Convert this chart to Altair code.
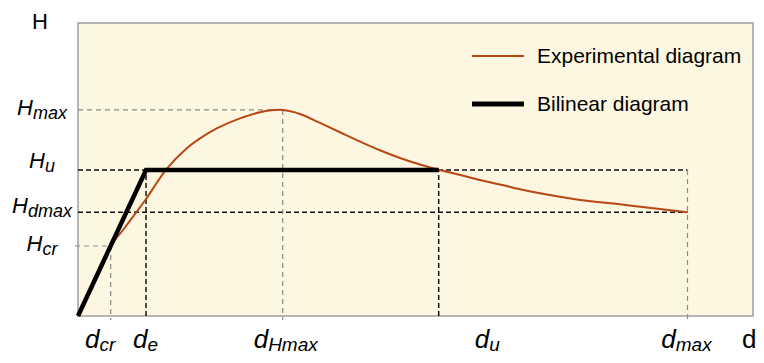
import altair as alt
import pandas as pd

# ---------------- data (grid units) ----------------
curve_d = [0, 3.10, 4.27, 5.55, 6.45, 8.41, 10.31, 11.57, 13.15, 15.36, 17.26,
           19.41, 21.05, 22.95, 24.84, 26.74, 28.63, 30.53, 32.43, 34.04, 36.22,
           38.11, 40.01, 41.91, 43.80, 47.60, 51.39, 55.18, 57.79]
curve_H = [0, 6.69, 8.22, 9.94, 11.18, 14.05, 16.03, 16.98, 17.94, 18.89, 19.47,
           19.69, 19.31, 18.45, 17.56, 16.67, 15.84, 15.10, 14.47, 14.02, 13.48,
           13.00, 12.57, 12.11, 11.73, 11.09, 10.67, 10.23, 9.91]

d_names = ["cr", "e", "Hmax", "u", "max"]
d_values = [3.10, 6.45, 19.41, 34.20, 57.79]
H_names = ["max", "u", "dmax", "cr"]
H_values = [19.69, 13.95, 9.91, 6.69]

series_names = ["Experimental diagram", "Bilinear diagram"]
series_colors = ["#B74714", "#000000"]

d = dict(zip(d_names, d_values))
H = dict(zip(H_names, H_values))

bilinear_d = [0, d["e"], d["u"]]
bilinear_H = [0, H["u"], H["u"]]

# ---------------- layout / style ----------------
W, HH = 675, 293
X_DOM, Y_DOM = [0, 64], [0, 28]
PXU = W / (X_DOM[1] - X_DOM[0])
PYU = HH / (Y_DOM[1] - Y_DOM[0])
FONT = "Liberation Sans"
GRAY = "#8a8a8a"
GRID = "#F5EBD0"

xs = alt.Scale(domain=X_DOM, nice=False, zero=False)
ys = alt.Scale(domain=Y_DOM, nice=False, zero=False)

one = pd.DataFrame({"k": [0]})

grid_x = alt.Axis(grid=True, tickCount=64, labels=False, ticks=False, domain=False,
                  title=None, gridColor=GRID, gridWidth=1)
grid_y = alt.Axis(grid=True, tickCount=28, labels=False, ticks=False, domain=False,
                  title=None, gridColor=GRID, gridWidth=1)

exp_df = pd.DataFrame({"d": curve_d, "H": curve_H})
bil_df = pd.DataFrame({"d": bilinear_d, "H": bilinear_H})

below = -4 / PYU
left_ext = -3 / PXU

black_rules = pd.DataFrame({
    "x":  [0, 0, d["e"], d["u"]],
    "x2": [d["max"], d["max"], d["e"], d["u"]],
    "y":  [H["u"], H["dmax"], 0, 0],
    "y2": [H["u"], H["dmax"], H["u"], H["u"]],
})
gray_rules = pd.DataFrame({
    "x":  [0, d["Hmax"], left_ext, d["cr"], d["max"]],
    "x2": [d["Hmax"], d["Hmax"], d["cr"], d["cr"], d["max"]],
    "y":  [H["max"], H["max"], H["cr"], H["cr"], H["u"]],
    "y2": [H["max"], below, H["cr"], below, below],
})

layers = []

# the experimental curve carries the background grid
layers.append(
    alt.Chart(exp_df).mark_line(opacity=0).encode(
        x=alt.X("d:Q", scale=xs, axis=grid_x),
        y=alt.Y("H:Q", scale=ys, axis=grid_y),
    )
)
layers.append(
    alt.Chart(black_rules).mark_rule(color="#111111", strokeWidth=1.5, strokeDash=[5, 3]).encode(
        x=alt.X("x:Q", scale=xs, axis=None), x2="x2:Q",
        y=alt.Y("y:Q", scale=ys, axis=None), y2="y2:Q",
    )
)
layers.append(
    alt.Chart(gray_rules).mark_rule(color=GRAY, strokeWidth=1.2, strokeDash=[5, 4]).encode(
        x=alt.X("x:Q", scale=xs, axis=None), x2="x2:Q",
        y=alt.Y("y:Q", scale=ys, axis=None), y2="y2:Q",
    )
)
layers.append(
    alt.Chart(exp_df).mark_line(color=series_colors[0], strokeWidth=2, interpolate="catmull-rom").encode(
        x=alt.X("d:Q", scale=xs, axis=None), y=alt.Y("H:Q", scale=ys, axis=None),
    )
)
layers.append(
    alt.Chart(bil_df).mark_line(color=series_colors[1], strokeWidth=4.5, strokeJoin="miter",
                                strokeCap="butt").encode(
        x=alt.X("d:Q", scale=xs, axis=None), y=alt.Y("H:Q", scale=ys, axis=None),
    )
)

# character widths (Arial metrics) to join a letter with its subscript
CW = {"H": .722, "d": .556, "m": .833, "a": .556, "x": .5, "u": .556,
      "c": .5, "r": .333, "e": .556}


def tw(s, size):
    return sum(CW.get(c, .55) for c in s) * size


def txt(text, size, align, italic=True, dx=0, dy=0, baseline="alphabetic"):
    kw = dict(text=text, fontSize=size, align=align, baseline=baseline, font=FONT,
              color="#000000", dx=dx, dy=dy)
    if italic:
        kw["fontStyle"] = "italic"
    return alt.Chart(one).mark_text(**kw)


# y-axis labels H_xxx, centred on a common column
Y_LABEL_CENTER = -36
y_nudge = {"max": 5, "u": -2, "dmax": 1, "cr": 5}
for name in H_names:
    wm, ws = tw("H", 22), tw(name, 18)
    join = Y_LABEL_CENTER - (wm + ws) / 2 + wm
    layers.append(txt("H", 22, "right", dy=y_nudge[name]).encode(
        x=alt.value(join), y=alt.Y(datum=H[name], scale=ys, axis=None)))
    layers.append(txt(name, 18, "left", dy=y_nudge[name] + 4).encode(
        x=alt.value(join), y=alt.Y(datum=H[name], scale=ys, axis=None)))

# x-axis labels d_xxx
X_LABEL_BASE = HH + 32
x_shift = {"cr": -10.5, "e": -0.5, "Hmax": 3, "u": 48.5, "max": -1}
for name in d_names:
    line_px = d[name] * PXU
    wm, ws = tw("d", 26), tw(name, 19)
    join = line_px + x_shift[name] - (wm + ws) / 2 + wm
    layers.append(txt("d", 26, "right", dx=join - line_px).encode(
        x=alt.X(datum=d[name], scale=xs, axis=None), y=alt.value(X_LABEL_BASE)))
    layers.append(txt(name, 19, "left", dx=join - line_px).encode(
        x=alt.X(datum=d[name], scale=xs, axis=None), y=alt.value(X_LABEL_BASE + 3)))

# axis titles
layers.append(txt("H", 22, "left", italic=False).encode(x=alt.value(-46), y=alt.value(6)))
layers.append(txt("d", 26, "left", italic=False).encode(x=alt.value(664), y=alt.value(X_LABEL_BASE)))

# legend
leg_y = [33, 81]
leg_w = [2, 5]
for name, col, yy, sw in zip(series_names, series_colors, leg_y, leg_w):
    layers.append(alt.Chart(one).mark_rule(color=col, strokeWidth=sw).encode(
        x=alt.value(394), x2=alt.value(446), y=alt.value(yy)))
    layers.append(txt(name, 21, "left", italic=False, dy=7).encode(
        x=alt.value(459), y=alt.value(yy)))

chart = alt.layer(*layers).properties(
    width=W, height=HH,
    autosize=alt.AutoSizeParams(type="none"),
    padding={"left": 70, "top": 15, "right": 3, "bottom": 39},
    background="white",
).configure_view(
    fill="#FDF7E1", stroke="#A0A0A0", strokeWidth=1.5,
)

chart.save("out.html", embed_options={"renderer": "svg", "actions": False})
